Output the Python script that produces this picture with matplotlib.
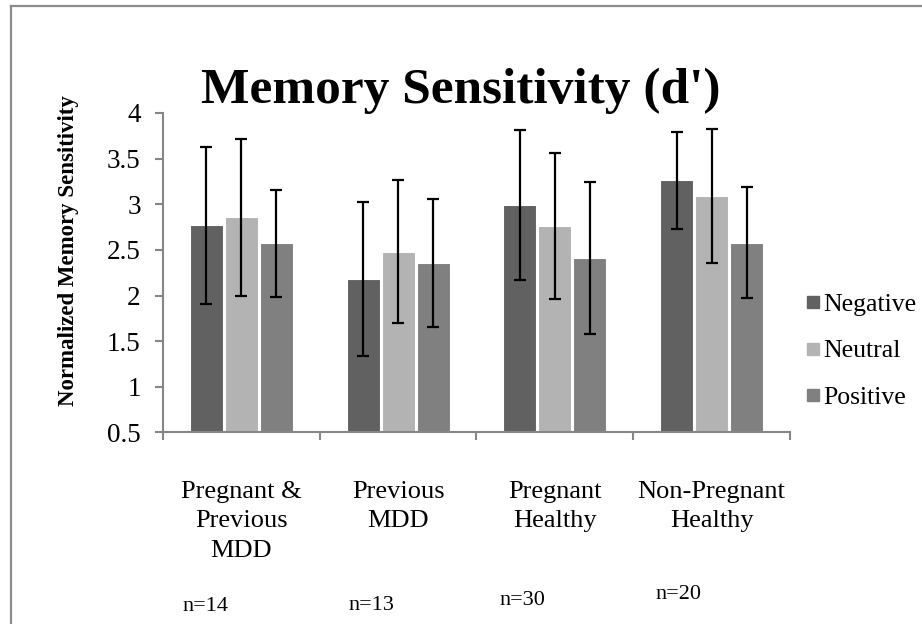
import matplotlib
matplotlib.use("Agg")
import matplotlib.pyplot as plt
from matplotlib.lines import Line2D
import numpy as np

plt.rcParams['font.family'] = ['Liberation Serif', 'DejaVu Serif']

grupos = ['Pregnant &\nPrevious\nMDD', 'Previous\nMDD', 'Pregnant\nHealthy', 'Non-Pregnant\nHealthy']
n_labels = ['n=14', 'n=13', 'n=30', 'n=20']
series = ['Negative', 'Neutral', 'Positive']

negative = [2.77, 2.18, 2.99, 3.26]
neutral = [2.86, 2.48, 2.76, 3.09]
positive = [2.57, 2.36, 2.41, 2.58]

negative_err = [0.86, 0.84, 0.82, 0.53]
neutral_err = [0.86, 0.78, 0.80, 0.73]
positive_err = [0.59, 0.70, 0.83, 0.61]

cores = ['#616161', '#b3b3b3', '#808080']
cinza = '#868686'


def desenhar():
    fig = plt.figure(figsize=(9.22, 6.24), dpi=100)
    ax = fig.add_axes([0.1768, 0.307, 0.68, 0.512])

    x = np.arange(len(grupos))
    valores = [negative, neutral, positive]
    erros = [negative_err, neutral_err, positive_err]
    offsets = [-0.223, 0.0, 0.223]

    for v, e, c, o, nome in zip(valores, erros, cores, offsets, series):
        ax.bar(x + o, v, width=0.21, color=c, edgecolor='white', linewidth=0.8,
               label=nome, zorder=2)
        ax.errorbar(x + o, v, yerr=e, fmt='none', ecolor='black', elinewidth=1.6,
                    capsize=4.5, capthick=1.6, zorder=3)

    ax.set_ylim(0.5, 4)
    ax.set_xlim(-0.5, 3.5)
    ax.set_yticks([0.5, 1, 1.5, 2, 2.5, 3, 3.5, 4])
    ax.set_yticklabels(['0.5', '1', '1.5', '2', '2.5', '3', '3.5', '4'], fontsize=19.5)

    # ticks nas divisões dos grupos, rótulos no meio
    ax.set_xticks(np.arange(-0.5, 4.0, 1.0))
    ax.set_xticklabels([])
    ax.set_xticks(x, minor=True)
    ax.set_xticklabels(grupos, minor=True, fontsize=19, linespacing=1.43)
    ax.tick_params(axis='x', which='minor', length=0, pad=35)
    ax.tick_params(axis='x', which='major', length=6, color=cinza, width=1.5, direction='out')
    ax.tick_params(axis='y', length=6, color=cinza, width=1.5, direction='out', pad=10)

    for lado in ['top', 'right']:
        ax.spines[lado].set_visible(False)
    for lado in ['left', 'bottom']:
        ax.spines[lado].set_color(cinza)
        ax.spines[lado].set_linewidth(1.5)

    ax.set_ylabel('Normalized Memory Sensitivity', fontsize=16.5, fontweight='bold')
    ax.yaxis.set_label_coords(-0.134, 0.57)

    fig.text(0.5, 0.835, "Memory Sensitivity (d')", fontsize=37, fontweight='bold',
             ha='center', va='baseline')

    # n de cada grupo
    n_x = [205, 371, 522, 678]
    n_y = [611, 610, 605, 599]
    for t, px, py in zip(n_labels, n_x, n_y):
        fig.text(px / 922, 1 - py / 624, t, fontsize=16, ha='center', va='baseline')

    handles = [Line2D([], [], marker='s', linestyle='none', markersize=9,
                      markerfacecolor=c, markeredgecolor=c) for c in cores]
    fig.legend(handles, series, loc='center left', bbox_to_anchor=(0.859, 0.4375),
               frameon=False, fontsize=18.5, labelspacing=0.92, handlelength=0.6,
               handletextpad=0.1, borderpad=0)

    # moldura cinza (esquerda e topo)
    fig.add_artist(Line2D([11 / 922, 11 / 922], [0, 1 - 6 / 624], color='#8c8c8c', lw=1.6))
    fig.add_artist(Line2D([11 / 922, 1], [1 - 6 / 624, 1 - 6 / 624], color='#8c8c8c', lw=1.6))

    fig.savefig('out.png', dpi=100)


if __name__ == "__main__":
    desenhar()
